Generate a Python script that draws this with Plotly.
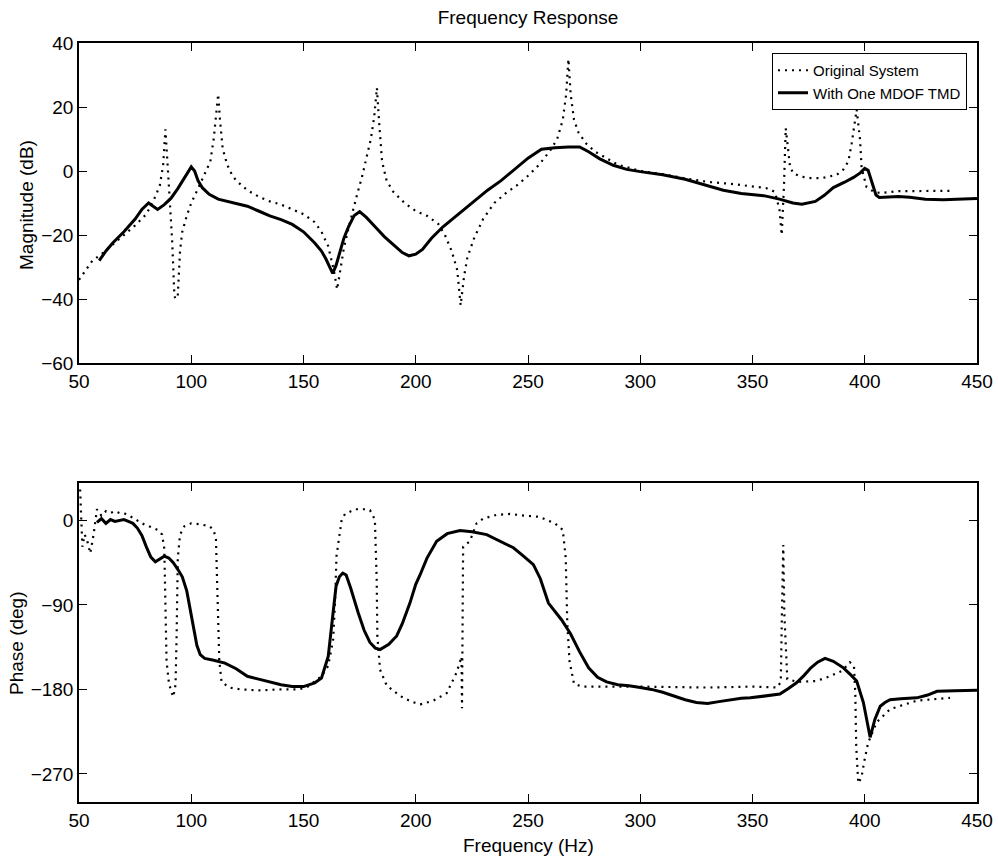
import plotly.graph_objects as go

# ---------------- data ----------------
mag_orig_f = [50, 53, 56, 60, 65, 70, 75, 80, 84, 86, 87.5, 88.5, 89.5, 90.5, 91.5, 92.5, 93, 94, 95, 96, 98,
              100, 103, 106, 108.5, 110, 111.3, 112, 112.8, 114, 116, 118, 120, 125, 130, 135, 140, 145, 150,
              155, 158, 161, 163.5, 165, 166.5, 168, 170, 172, 174, 176, 178, 180, 181.5, 182.7, 183.7, 185,
              187, 190, 195, 200, 205, 210, 213, 216, 218.5, 220, 221.5, 223, 226, 230, 235, 240, 245, 250,
              255, 260, 263, 265.5, 267, 268, 269, 270.5, 272.5, 276, 280, 285, 290, 300, 310, 320, 330, 340,
              350, 356, 360, 362, 363, 364, 364.8, 366.7, 368.2, 372, 376, 381, 387.5, 390.4, 392.7, 394.2,
              396.4, 397.9, 398.6, 399.7, 400.8, 404, 407, 415, 425, 438]
mag_orig_db = [-34, -31, -28, -26, -23, -20, -17, -13.5, -8, -4.5, 2, 13, 3, -10, -22, -39, -40, -39, -25, -19, -14,
               -10, -5.5, -1, 3, 10, 18, 24, 16, 7, 2, -1, -3, -6, -8, -9.5, -10.5, -12, -13.5,
               -16, -19, -23.5, -31, -37, -30, -24, -18, -12, -7, -2, 4, 10, 17, 26, 15, 3,
               -3, -6.5, -10, -12.5, -14, -16.5, -20, -25, -31, -42, -33, -27, -21, -15, -10, -7, -4.5, -1.5,
               2, 6.5, 10, 16, 24, 35, 24, 16, 12, 8.5, 6, 4, 2, 0, -1, -2.3, -3.4, -4,
               -4.7, -5.3, -6.5, -12, -20, -5, 13.4, 1.4, -0.8, -1.8, -2.2, -2.2, -1.2, 0.4, 3, 8.7,
               19.2, 9.8, 0.9, -2.2, -5, -6.5, -6.9, -6.3, -6.2, -6.2]

mag_tmd_f = [59, 62, 65, 70, 75, 78, 81, 83, 85, 88, 91, 94, 97, 99, 100, 101.5, 103, 105, 108, 112, 118, 125,
             130, 135, 140, 145, 150, 155, 158, 160, 162, 163, 164.5, 166, 168, 170, 172.5, 175, 178, 182, 186,
             190, 194, 197, 200, 203, 207, 212, 218, 225, 232, 238, 244, 250, 256, 262, 268, 273, 277, 282,
             288, 294, 300, 310, 320, 330, 337, 345, 355, 362, 368, 372, 378, 382, 386, 391, 395, 398, 400,
             401.5, 403, 405, 406.5, 410, 415, 420, 427, 435, 442, 450]
mag_tmd_db = [-28, -25, -22.5, -19, -15, -12, -10, -11, -12, -10.5, -8.5, -5.5, -2, 0.5, 1.3, 0, -3, -5.3, -7.3,
              -8.8, -9.8, -11, -12.5, -14, -15.2, -16.7, -19, -22.5, -25, -27.5, -30.5, -32, -29.5, -26, -21,
              -17.5, -14, -12.7, -14.5, -17.5, -20.5, -23, -25.5, -26.5, -26, -24.5, -21, -17.5, -14, -10, -6,
              -3, 0.5, 4, 6.8, 7.3, 7.5, 7.5, 6, 3.8, 1.8, 0.5, -0.2, -1.2, -2.6, -4.6, -6, -7, -7.7, -8.8,
              -10, -10.4, -9.5, -7.6, -5.2, -3.5, -2, -0.6, 0.8, 0.2, -3, -7.5, -8.3, -8.2, -8, -8.2, -8.8, -9,
              -8.9, -8.6]

ph_orig_f = [50.5, 51, 51.5, 52.5, 53.5, 55, 56.5, 58, 60, 62, 64, 66, 68, 70, 74, 78, 82, 85, 87, 88, 88.5, 89,
             90, 91, 92, 93, 93.5, 94, 95, 97, 100, 104, 108, 110, 111, 111.7, 112.5, 113.5, 117, 122, 130,
             140, 148, 152, 156, 158, 161, 163.2, 164, 164.7, 167, 168.5, 173, 177, 179.6, 181.8, 182.6,
             182.9, 184.1, 187.1, 193, 198, 202, 207.8, 213.8, 218.2, 220.4, 220.6, 221.1, 224.1, 227.1,
             230, 236, 242, 249.3, 255, 262, 265.5, 266.8, 267.5, 268.5, 270.5, 274, 300, 330, 350, 361,
             362.6, 363.1, 363.7, 364.2, 365.5, 370, 378.5, 384.5, 390, 393.4, 395.2, 395.8, 396.2, 397.1,
             398.5, 400, 401.5, 405.3, 411.3, 423.2, 438]
ph_orig_deg = [33, 0, -28, -15, -20, -35, -15, 12, 5, 10, 8, 10, 8, 8, 3, -3, -7, -10, -15, -30, -90, -150,
               -172, -182, -188, -175, -120, -40, -15, -6, -3, -4, -6, -10, -20, -80, -150, -172, -178, -180,
               -181, -180, -180, -177, -170, -166, -155, -127, -90, -38, 1, 7, 12, 12, 11, 1, -63,
               -123, -159, -176, -187, -193, -196, -192, -184, -162, -145, -200, -28, -22, -3,
               2, 6, 7, 5, 4, -3, -10, -40, -110, -150, -174, -177, -177, -178, -177, -178,
               -172, -100, -26, -100, -169, -172, -171, -166, -160, -151, -155, -185, -240, -280,
               -274, -254, -237, -215, -201, -192, -189]

ph_tmd_f = [58, 60, 62, 64, 66, 68, 70, 72, 74, 76, 78, 80, 82, 84, 86, 88, 90, 92, 94, 96, 98, 99.5, 101,
            102.5, 104, 106, 110, 115, 120, 125, 130, 135, 140, 145, 150, 155, 158, 161, 162.5, 163.5, 164.5,
            166, 167.5, 169, 171, 174.4, 177, 179.6, 182, 184.1, 188, 191.5, 194, 197.4, 200, 201.9, 205,
            209.3, 214, 219.7, 225, 231.6, 237, 243.5, 248, 252.4, 255.5, 259.1, 265, 269, 273, 277, 281,
            285, 290, 295, 300, 305, 310, 315, 320, 325, 330, 335, 340, 345, 349, 355, 362.2, 366, 369.6,
            373, 376, 379, 382.3, 386, 390.5, 394, 396.4, 399.4, 401, 402.4, 404.5, 406.9, 409, 411.3, 416,
            423.2, 428, 432.2, 440, 450]
ph_tmd_deg = [-2, 2, -3, 1, -1, 0, 1, -1, -3, -8, -16, -28, -39, -44, -41, -38, -40, -45, -52, -60, -75, -95,
              -115, -133, -143, -147, -149, -152, -158, -166, -169, -172, -175, -177, -177, -173, -168, -145,
              -115, -90, -70, -60, -56, -58, -72, -98.5, -117, -130, -136, -137.5, -132, -123, -110, -88,
              -68, -58, -40, -22, -14, -10.6, -12, -15, -21, -29, -38, -47, -62, -88, -106, -121, -140, -157,
              -167, -172, -175, -176, -178, -180, -183, -187, -191, -194, -195, -193, -191, -189.5, -189,
              -187, -185, -179, -173, -165, -157, -151, -147, -150, -157, -165, -171, -194, -215, -231, -212,
              -198, -194, -191, -190, -189, -186, -182, -181.5, -181]

x_ticks = [50, 100, 150, 200, 250, 300, 350, 400, 450]
mag_ticks = [-60, -40, -20, 0, 20, 40]
ph_ticks = [-270, -180, -90, 0]

# ---------------- figure ----------------
W, H = 998, 863
L, R, T, B = 79, 21, 43, 61
PW, PH = W - L - R, H - T - B          # plot area: 898 x 759 px


def px_x(px):   # page x -> paper x
    return (px - L) / PW


def px_y(px):   # page y -> paper y
    return (H - B - px) / PH


FONT = "Liberation Sans, Arial, Helvetica, sans-serif"
fig = go.Figure()

dot_style = dict(color="black", width=2.2, dash="2px,5px")
solid_style = dict(color="black", width=3)

fig.add_trace(go.Scatter(x=mag_orig_f, y=mag_orig_db, mode="lines", line=dot_style,
                         name="Original System", xaxis="x", yaxis="y"))
fig.add_trace(go.Scatter(x=mag_tmd_f, y=mag_tmd_db, mode="lines", line=solid_style,
                         name="With One MDOF TMD", xaxis="x", yaxis="y"))
fig.add_trace(go.Scatter(x=ph_orig_f, y=ph_orig_deg, mode="lines", line=dot_style,
                         showlegend=False, xaxis="x2", yaxis="y2"))
fig.add_trace(go.Scatter(x=ph_tmd_f, y=ph_tmd_deg, mode="lines", line=solid_style,
                         showlegend=False, xaxis="x2", yaxis="y2"))

axis_common = dict(showgrid=False, zeroline=False, showline=True, linecolor="black", linewidth=1.5,
                   mirror="ticks", ticks="inside", ticklen=8, tickwidth=1.2, tickcolor="black",
                   automargin=False,
                   tickfont=dict(family=FONT, size=19, color="black"))

fig.update_layout(
    width=W, height=H,
    margin=dict(l=L, r=R, t=T, b=B, autoexpand=False),
    paper_bgcolor="white", plot_bgcolor="white",
    font=dict(family=FONT, color="black"),
    title=dict(text="Frequency Response", x=0.5, xref="paper", xanchor="center",
               y=1 - 17 / H, yref="container", yanchor="middle", automargin=False,
               font=dict(family=FONT, size=19, color="black")),
    xaxis=dict(axis_common, domain=[0, 1], range=[50, 450], tickvals=x_ticks, anchor="y"),
    yaxis=dict(axis_common, domain=[px_y(363), 1], range=[-60, 40], tickvals=mag_ticks, anchor="x"),
    xaxis2=dict(axis_common, domain=[0, 1], range=[50, 450], tickvals=x_ticks, anchor="y2"),
    yaxis2=dict(axis_common, domain=[0, px_y(483)], range=[-300, 40], tickvals=ph_ticks, anchor="x2"),
    legend=dict(x=px_x(967), y=px_y(53), xanchor="right", yanchor="top", bgcolor="white",
                bordercolor="black", borderwidth=1, font=dict(family=FONT, size=15, color="black"),
                tracegroupgap=0, itemwidth=30),
    annotations=[
        dict(text="Magnitude (dB)", textangle=-90, xref="paper", yref="paper",
             x=px_x(26), y=px_y(205), xanchor="center", yanchor="middle",
             showarrow=False, font=dict(family=FONT, size=19, color="black")),
        dict(text="Phase (deg)", textangle=-90, xref="paper", yref="paper",
             x=px_x(16), y=px_y(643), xanchor="center", yanchor="middle",
             showarrow=False, font=dict(family=FONT, size=19, color="black")),
        dict(text="Frequency (Hz)", xref="paper", yref="paper",
             x=0.5, y=px_y(845), xanchor="center", yanchor="middle",
             showarrow=False, font=dict(family=FONT, size=19, color="black")),
    ],
)

# remove the default 8px page margin so the 998x863 figure fills the window exactly
fig.write_html("out.html", config={"displayModeBar": False},
               post_script="document.body.style.margin='0';document.body.style.overflow='hidden';")
